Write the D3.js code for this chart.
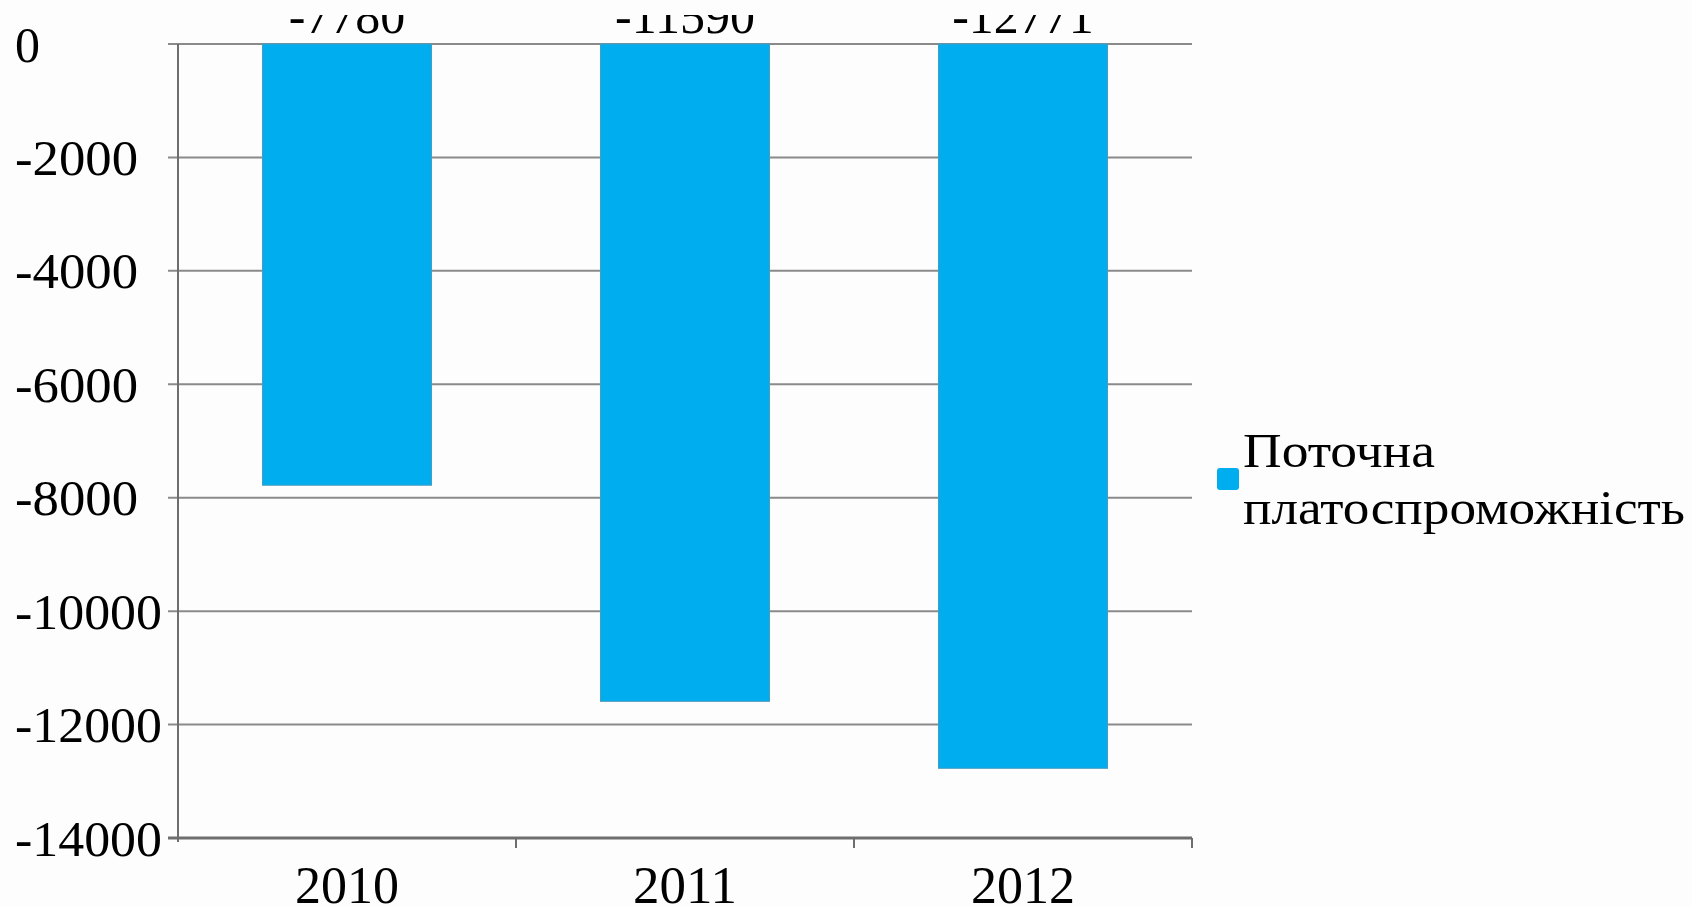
<!DOCTYPE html>
<html><head><meta charset="utf-8">
<script src="https://cdn.jsdelivr.net/npm/d3@7"></script>
<style>
html,body{margin:0;padding:0;background:#fdfdfd;overflow:hidden;}
svg{display:block;}
text{font-family:"Liberation Serif","Times New Roman",serif;fill:#000;}
</style></head>
<body>
<svg id="chart" width="1692" height="906"></svg>
<script>
const categories = ["2010", "2011", "2012"];
const values = [-7780, -11590, -12771];
const seriesName = "Поточна платоспроможність";
const legendLines = ["Поточна", "платоспроможність"];
const yTicks = [0, -2000, -4000, -6000, -8000, -10000, -12000, -14000];

(function () {
const svg = d3.select("#chart");
const pLeft = 178, pRight = 1192, pTop = 44, pBottom = 838;
const barColor = "#00aeef";

svg.append("defs").append("clipPath").attr("id", "lblclip")
  .append("rect").attr("x", 0).attr("y", 15).attr("width", 1692).attr("height", 891);

const x = d3.scaleBand().domain(categories).range([pLeft, pRight]).paddingInner(0.5).paddingOuter(0.25);
const xb = d3.scaleBand().domain(categories).range([pLeft, pRight]);
const y = d3.scaleLinear().domain([-14000, 0]).range([pBottom, pTop]);

// gridlines
svg.append("g").selectAll("line").data(yTicks).join("line")
  .attr("x1", pLeft - 10).attr("x2", pRight)
  .attr("y1", d => y(d)).attr("y2", d => y(d))
  .attr("stroke", "#8a8a8a").attr("stroke-width", 2);

// bars
svg.append("g").selectAll("rect").data(values).join("rect")
  .attr("x", (d, i) => x(categories[i]))
  .attr("width", x.bandwidth())
  .attr("y", d => y(0))
  .attr("height", d => y(d) - y(0))
  .attr("fill", barColor)
  .attr("stroke", "#4a9cbf").attr("stroke-width", 1);

// y axis line
svg.append("line").attr("x1", pLeft).attr("x2", pLeft).attr("y1", pTop).attr("y2", pBottom + 4)
  .attr("stroke", "#6e6e6e").attr("stroke-width", 2);

// x axis line + ticks
svg.append("line").attr("x1", pLeft - 10).attr("x2", pRight).attr("y1", pBottom).attr("y2", pBottom)
  .attr("stroke", "#6e6e6e").attr("stroke-width", 3);
const bounds = categories.map(c => xb(c) + xb.bandwidth());
svg.append("g").selectAll("line").data(bounds).join("line")
  .attr("x1", d => d).attr("x2", d => d).attr("y1", pBottom).attr("y2", pBottom + 10)
  .attr("stroke", "#6e6e6e").attr("stroke-width", 2);

// y labels
svg.append("g").selectAll("text").data(yTicks).join("text")
  .attr("x", 15).attr("y", d => y(d)).attr("dy", "0.35em")
  .attr("font-size", 50)
  .attr("textLength", d => d === 0 ? null : (String(Math.abs(d)).length === 5 ? 147 : 123))
  .attr("lengthAdjust", "spacingAndGlyphs")
  .text(d => d === 0 ? "0" : "-" + Math.abs(d));

// x labels
svg.append("g").selectAll("text").data(categories).join("text")
  .attr("x", d => xb(d) + xb.bandwidth() / 2).attr("y", 903)
  .attr("text-anchor", "middle").attr("font-size", 52)
  .attr("textLength", 104).attr("lengthAdjust", "spacingAndGlyphs")
  .text(d => d);

// data labels (clipped at top as in the original)
svg.append("g").attr("clip-path", "url(#lblclip)").selectAll("text").data(values).join("text")
  .attr("x", (d, i) => x(categories[i]) + x.bandwidth() / 2).attr("y", 33)
  .attr("text-anchor", "middle").attr("font-size", 50)
  .text(d => "-" + Math.abs(d));

// legend
const lg = svg.append("g");
lg.append("rect").attr("x", 1217).attr("y", 468).attr("width", 22).attr("height", 22).attr("rx", 3)
  .attr("fill", barColor);
const lw = [192, 442];
lg.selectAll("text").data(legendLines).join("text")
  .attr("x", 1243).attr("y", (d, i) => 467 + i * 57)
  .attr("font-size", 48)
  .attr("textLength", (d, i) => lw[i]).attr("lengthAdjust", "spacingAndGlyphs")
  .text(d => d);
})();
</script>
</body></html>
